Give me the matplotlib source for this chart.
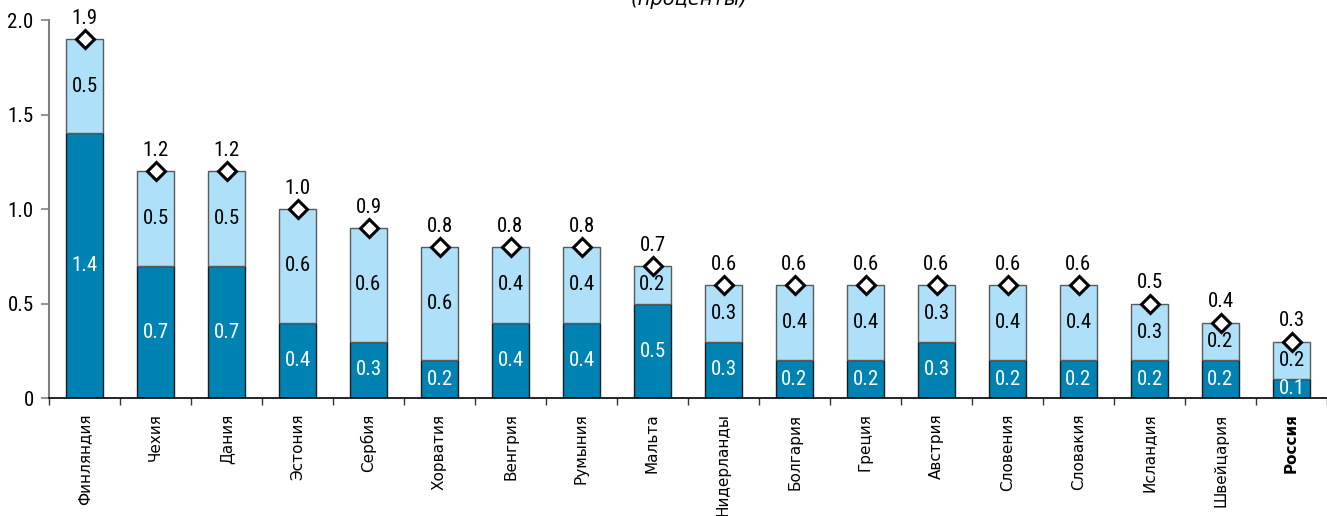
import matplotlib
matplotlib.use('Agg')
import matplotlib.pyplot as plt
from matplotlib import font_manager as fm
import numpy as np

countries = ['Финляндия', 'Чехия', 'Дания', 'Эстония', 'Сербия', 'Хорватия',
             'Венгрия', 'Румыния', 'Мальта', 'Нидерланды', 'Болгария', 'Греция',
             'Австрия', 'Словения', 'Словакия', 'Исландия', 'Швейцария', 'Россия']
base_part = [1.4, 0.7, 0.7, 0.4, 0.3, 0.2, 0.4, 0.4, 0.5, 0.3, 0.2, 0.2,
             0.3, 0.2, 0.2, 0.2, 0.2, 0.1]
upper_part = [0.5, 0.5, 0.5, 0.6, 0.6, 0.6, 0.4, 0.4, 0.2, 0.3, 0.4, 0.4,
              0.3, 0.4, 0.4, 0.3, 0.2, 0.2]
totals = [1.9, 1.2, 1.2, 1.0, 0.9, 0.8, 0.8, 0.8, 0.7, 0.6, 0.6, 0.6,
          0.6, 0.6, 0.6, 0.5, 0.4, 0.3]
y_ticks = [0, 0.5, 1.0, 1.5, 2.0]
y_tick_labels = ['0', '0.5', '1.0', '1.5', '2.0']
subtitle = '(проценты)'

available = {f.name for f in fm.fontManager.ttflist}
num_font = next((f for f in ['Liberation Sans Narrow', 'Roboto Condensed',
                             'Arial Narrow', 'Liberation Sans']
                 if f in available), 'DejaVu Sans')
label_font = 'DejaVu Sans'

DARK = '#0083b3'
LIGHT = '#aee0f9'

fig = plt.figure(figsize=(13.27, 5.16), dpi=100)
ax = fig.add_axes([49 / 1327, 117.7 / 516, 1 - 49 / 1327, 378.3 / 516])

x = np.arange(len(countries))
width = 0.53
ax.bar(x, base_part, width, color=DARK, edgecolor='#1a1a1a', linewidth=1.0, zorder=2)
ax.bar(x, upper_part, width, bottom=base_part, color=LIGHT, edgecolor='#5a5a5a',
       linewidth=1.0, zorder=2)
ax.plot(x, totals, linestyle='none', marker='D', markersize=9,
        markerfacecolor='white', markeredgecolor='black', markeredgewidth=2.2,
        zorder=4, clip_on=False)

num_size = 15
for xi, b, u, t in zip(x, base_part, upper_part, totals):
    ax.text(xi, b / 2, f'{b:.1f}', ha='center', va='center', color='white',
            fontsize=num_size, family=num_font, zorder=3)
    ax.text(xi, b + u / 2, f'{u:.1f}', ha='center', va='center', color='black',
            fontsize=num_size, family=num_font, zorder=3)
    ax.annotate(f'{t:.1f}', (xi, t), xytext=(0, 11), textcoords='offset points',
                ha='center', va='baseline', fontsize=num_size, family=num_font,
                color='black', annotation_clip=False)

ax.set_xlim(-0.5, -0.5 + (1327 - 48.3) / 71.43)
ax.set_ylim(0, 2.0)

ax.set_yticks(y_ticks)
ax.set_yticklabels(y_tick_labels, family=num_font, fontsize=num_size)
ax.tick_params(axis='y', direction='out', length=6, width=1.2, color='#808080', pad=5)

ax.set_xticks(x)
ax.set_xticklabels(countries, rotation=90, fontsize=11, family=label_font)
ax.tick_params(axis='x', which='major', length=0, pad=11)
ax.set_xticks(np.arange(len(countries) + 1) - 0.5, minor=True)
ax.tick_params(axis='x', which='minor', direction='out', length=5, width=1.0,
               color='#333333')
for lbl in ax.get_xticklabels():
    if lbl.get_text() == 'Россия':
        lbl.set_fontweight('bold')

for side in ['top', 'right']:
    ax.spines[side].set_visible(False)
ax.spines['left'].set_color('#808080')
ax.spines['left'].set_linewidth(1.5)
ax.spines['bottom'].set_color('black')
ax.spines['bottom'].set_linewidth(1.2)

fig.text(689.5 / 1327, 1 - 5 / 516, subtitle, ha='center', va='baseline',
         fontsize=14, style='italic', family='DejaVu Sans')

fig.savefig('out.png', dpi=100)
